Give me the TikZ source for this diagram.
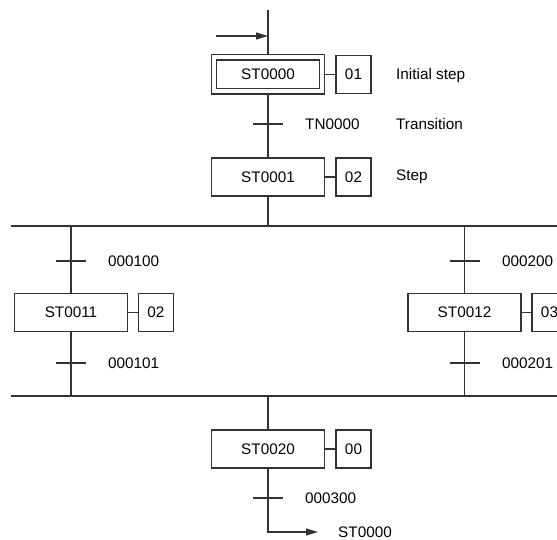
\documentclass[tikz,border=0pt]{standalone}
\usepackage{fontspec}
\setmainfont{Liberation Sans}
\usetikzlibrary{arrows.meta,positioning}
\begin{document}
\begin{tikzpicture}[
  x=1pt, y=-1pt,
  every node/.style={font=\fontsize{15.3}{18}\selectfont},
  flowline/.style={draw=black!80, line width=1.1pt},
  stepbox/.style={flowline, rectangle, minimum width=113pt, minimum height=38pt, inner sep=0pt},
  initbox/.style={stepbox, double, double distance=4pt, minimum width=108pt, minimum height=34pt, outer sep=3pt},
  actbox/.style={flowline, rectangle, minimum width=35pt, minimum height=38pt, inner sep=0pt},
  txt/.style={anchor=west, inner sep=0pt, text height=13.5pt, text depth=2.5pt},
  >={Triangle[length=12pt, width=7pt]}
]
\useasboundingbox (0,0) rectangle (557,540);
\clip (0,0) rectangle (557,540);

\coordinate (top) at (268,10);
\coordinate (entry) at (216,36);
\coordinate (entryend) at (268,36);
\node[initbox] (st0000) at (268,74.5) {ST0000};
\node[actbox] (a01) at (353.5,74.5) {01};
\node[txt] (lab1) at (396,74) {Initial step};
\coordinate (tn0) at (268,124);
\node[txt] (tn0lab) at (305,124) {TN0000};
\node[txt] (lab2) at (396,124) {Transition};
\node[stepbox] (st0001) at (268,177) {ST0001};
\node[actbox] (a02) at (353.5,177) {02};
\node[txt] (lab3) at (396,175) {Step};

\coordinate (barA) at (268,226);
\coordinate (barAl) at (11,226);
\coordinate (barAr) at (560,226);

\coordinate (b1top) at (71,226);
\coordinate (t100) at (71,261);
\node[txt] (t100lab) at (108,261) {000100};
\node[stepbox] (st0011) at (71,312.5) {ST0011};
\node[actbox] (a11) at (156,312.5) {02};
\coordinate (t101) at (71,363);
\node[txt] (t101lab) at (108,363) {000101};
\coordinate (b1bot) at (71,396);

\coordinate (b2top) at (464.5,226);
\coordinate (t200) at (464.5,261);
\node[txt] (t200lab) at (502,261) {000200};
\node[stepbox] (st0012) at (464.5,312.5) {ST0012};
\node[actbox] (a12) at (549.5,312.5) {03};
\coordinate (t201) at (464.5,363);
\node[txt] (t201lab) at (502,363) {000201};
\coordinate (b2bot) at (464.5,396);

\coordinate (barB) at (268,396);
\coordinate (barBl) at (11,396);
\coordinate (barBr) at (560,396);
\node[stepbox] (st0020) at (268,449) {ST0020};
\node[actbox] (a20) at (353.5,449) {00};
\coordinate (t300) at (268,498);
\node[txt] (t300lab) at (305,498) {000300};
\coordinate (ret) at (318,532);
\node[txt] (retlab) at (338,532) {ST0000};

\draw[flowline] (top) -- (st0000);
\draw[flowline, ->] (entry) -- (entryend);
\draw[flowline] (st0000) -- (a01);
\draw[flowline] (st0000) -- (st0001);
\draw[flowline] ([xshift=-15pt]tn0) -- ([xshift=15pt]tn0);
\draw[flowline] (st0001) -- (a02);
\draw[flowline] (st0001) -- (barA);
\draw[flowline] (barAl) -- (barAr);

\draw[flowline] (b1top) -- (st0011) -- (b1bot);
\draw[flowline] ([xshift=-15pt]t100) -- ([xshift=15pt]t100);
\draw[flowline] ([xshift=-15pt]t101) -- ([xshift=15pt]t101);
\draw[flowline] (st0011) -- (a11);

\draw[flowline] (b2top) -- (st0012) -- (b2bot);
\draw[flowline] ([xshift=-15pt]t200) -- ([xshift=15pt]t200);
\draw[flowline] ([xshift=-15pt]t201) -- ([xshift=15pt]t201);
\draw[flowline] (st0012) -- (a12);

\draw[flowline] (barBl) -- (barBr);
\draw[flowline] (barB) -- (st0020);
\draw[flowline] (st0020) -- (a20);
\draw[flowline] ([xshift=-15pt]t300) -- ([xshift=15pt]t300);
\draw[flowline, ->] (st0020) |- (ret);
\end{tikzpicture}
\end{document}
